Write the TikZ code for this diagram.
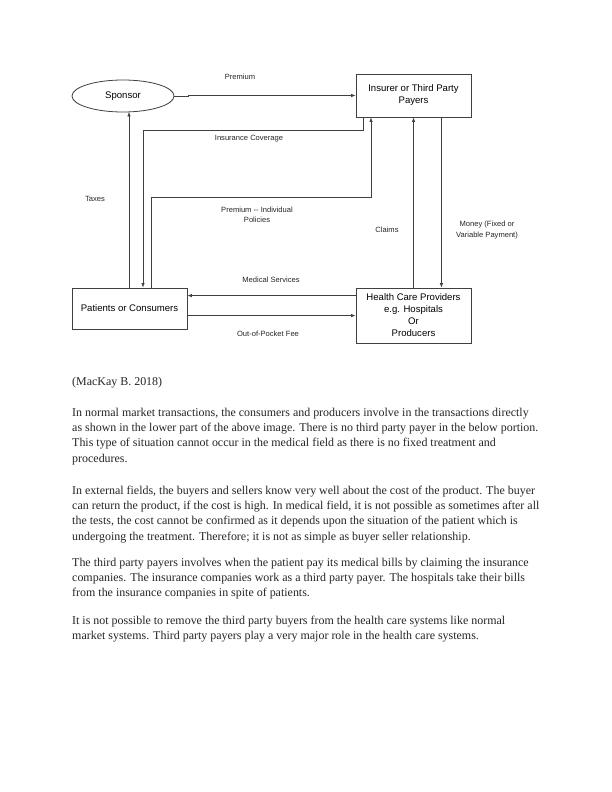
\documentclass[tikz,border=0pt]{standalone}
\usepackage{fontspec}
\setmainfont{Liberation Serif}
\newfontfamily\diagfont{Liberation Sans}
\usetikzlibrary{shapes.geometric,arrows.meta}
\begin{document}
\begin{tikzpicture}[x=1bp,y=1bp,
  conn/.style={draw=black!75,line width=0.75bp,-{Latex[length=4.5bp,width=3.5bp]}},
  boxtext/.style={font=\diagfont\fontsize{9.6}{12}\selectfont,align=center,inner sep=0pt},
  boxnode/.style={draw=black!75,line width=0.8bp,boxtext},
  lbl/.style={font=\diagfont\fontsize{7.6}{10.5}\selectfont,align=center,inner sep=0pt,text=black!85},
  para/.style={font=\fontsize{12}{15}\selectfont,inner sep=0pt,anchor=base west,text=black!85}]
\useasboundingbox (0,0) rectangle (612,-792);
\fill[white] (0,0) rectangle (612,-792);
% nodes
\node[boxnode,ellipse,minimum width=102bp,minimum height=32bp] (sponsor) at (123,-96) {Sponsor};
\node[boxnode,rectangle,minimum width=115bp,minimum height=43bp] (insurer) at (413.5,-95.5) {Insurer or Third Party\\Payers};
\node[boxnode,rectangle,minimum width=115bp,minimum height=41bp] (patients) at (129.5,-308.5) {Patients or Consumers};
\node[boxnode,rectangle,minimum width=115bp,minimum height=55bp] (hcp) at (413.5,-315.5) {Health Care Providers\\e.g. Hospitals\\Or\\Producers};
% coordinates
\coordinate (pj) at (188,-96);
\coordinate (ic) at (143,-130);
\coordinate (pi) at (371,-197);
\coordinate (tx) at (129,-288.5);
\coordinate (txs) at (129,-111.9);
% connectors
\draw[conn] (sponsor.east) -- (pj) |- (insurer.west);
\draw[conn] ([xshift=8bp]insurer.south west) |- (ic) -- (ic |- patients.north);
\draw[conn] (tx) -- (txs);
\draw[conn] ([xshift=80bp]patients.north west) |- (pi) -- (pi |- insurer.south);
\draw[conn] (hcp.north) -- (insurer.south);
\draw[conn] ([xshift=-30bp]insurer.south east) -- ([xshift=-30bp]hcp.north east);
\draw[conn] ([yshift=-8bp]hcp.north west) -- ([yshift=-8bp]hcp.north west -| patients.east);
\draw[conn] ([yshift=-28bp]patients.north east) -- ([yshift=-28bp]patients.north east -| hcp.west);
% labels
\node[lbl] (lprem) at (240,-77) {Premium};
\node[lbl] (lic) at (249,-139) {Insurance Coverage};
\node[lbl] (ltax) at (95,-199) {Taxes};
\node[lbl] (lpi) at (257,-215) {Premium -- Individual\\Policies};
\node[lbl] (lcl) at (387,-230) {Claims};
\node[lbl] (lmon) at (487,-230) {Money (Fixed or\\Variable Payment)};
\node[lbl] (lmed) at (271,-280) {Medical Services};
\node[lbl] (loop) at (268,-334) {Out-of-Pocket Fee};
% text
\node[para] (cite) at (72,-385.5) {(MacKay B. 2018)};
\node[para] (p1a) at (72,-416.5) {In normal market transactions, the consumers and producers involve in the transactions directly};
\node[para] (p1b) at (72,-431.7) {as shown in the lower part of the above image. There is no third party payer in the below portion.};
\node[para] (p1c) at (72,-446.9) {This type of situation cannot occur in the medical field as there is no fixed treatment and};
\node[para] (p1d) at (72,-462.1) {procedures.};
\node[para] (p2a) at (72,-494.5) {In external fields, the buyers and sellers know very well about the cost of the product. The buyer};
\node[para] (p2b) at (72,-509.7) {can return the product, if the cost is high. In medical field, it is not possible as sometimes after all};
\node[para] (p2c) at (72,-524.9) {the tests, the cost cannot be confirmed as it depends upon the situation of the patient which is};
\node[para] (p2d) at (72,-540.1) {undergoing the treatment. Therefore; it is not as simple as buyer seller relationship.};
\node[para] (p3a) at (72,-566.5) {The third party payers involves when the patient pay its medical bills by claiming the insurance};
\node[para] (p3b) at (72,-581.7) {companies. The insurance companies work as a third party payer. The hospitals take their bills};
\node[para] (p3c) at (72,-596.9) {from the insurance companies in spite of patients.};
\node[para] (p4a) at (72,-624.5) {It is not possible to remove the third party buyers from the health care systems like normal};
\node[para] (p4b) at (72,-639.7) {market systems. Third party payers play a very major role in the health care systems.};
\end{tikzpicture}
\end{document}
